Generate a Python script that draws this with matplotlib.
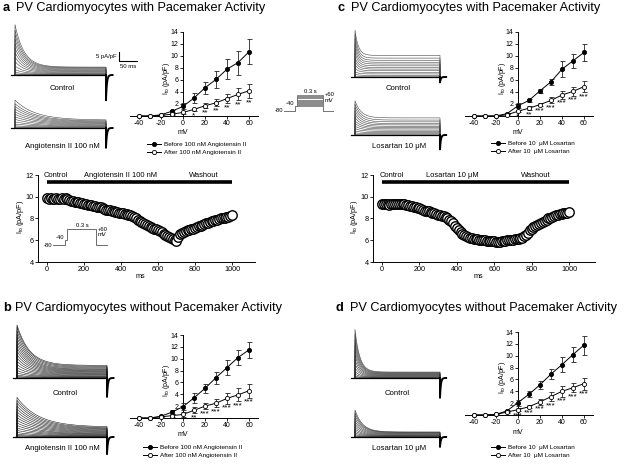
import numpy as np
import matplotlib
matplotlib.use("Agg")
import matplotlib.pyplot as plt

W, H = 624, 465

# ---------------- I-V curves (mV, pA/pF) ----------------
MV = [-40, -30, -20, -10, 0, 10, 20, 30, 40, 50, 60]

A_BEFORE = [0, 0, 0.2, 0.8, 1.6, 3.0, 4.7, 6.1, 7.8, 8.9, 10.7]
A_BEFORE_ERR = [0, 0, 0.1, 0.2, 0.5, 0.85, 1.0, 1.4, 1.7, 2.0, 2.1]
A_AFTER = [0, 0, 0.1, 0.3, 0.6, 1.1, 1.7, 2.2, 2.9, 3.6, 4.2]
A_AFTER_ERR = [0, 0, 0.05, 0.1, 0.2, 0.3, 0.4, 0.6, 0.8, 1.0, 1.2]
A_STARS = ['', '', '', '', '', '*', '**', '**', '**', '**', '**']

C_BEFORE = [0, 0, 0, 0.4, 1.7, 2.6, 4.2, 5.7, 7.8, 9.2, 10.6]
C_BEFORE_ERR = [0, 0, 0, 0.1, 0.4, 0.3, 0.3, 0.5, 1.3, 1.2, 1.4]
C_AFTER = [0, 0, 0, 0.2, 0.8, 1.3, 1.9, 2.6, 3.5, 4.1, 4.9]
C_AFTER_ERR = [0, 0, 0, 0.1, 0.2, 0.3, 0.3, 0.5, 0.6, 0.7, 0.9]
C_STARS = ['', '', '', '', '*', '**', '***', '***', '***', '***', '***']

B_BEFORE = [0, 0, 0.3, 1.0, 1.9, 3.4, 5.0, 6.8, 8.5, 10.2, 11.5]
B_BEFORE_ERR = [0, 0, 0.1, 0.4, 0.6, 0.8, 0.8, 1.0, 1.2, 1.3, 1.4]
B_AFTER = [0, 0, 0.2, 0.4, 0.6, 1.3, 2.0, 2.5, 3.3, 3.9, 4.6]
B_AFTER_ERR = [0, 0, 0.1, 0.2, 0.4, 0.5, 0.5, 0.7, 0.9, 1.1, 1.2]
B_STARS = ['', '', '', '', '', '**', '***', '***', '***', '***', '***']

D_BEFORE = [0, 0, 0.1, 0.7, 2.1, 3.5, 5.1, 6.9, 8.5, 10.2, 11.8]
D_BEFORE_ERR = [0, 0, 0.05, 0.2, 0.5, 0.5, 0.7, 0.9, 1.2, 1.3, 1.6]
D_AFTER = [0, 0, 0.1, 0.5, 0.9, 1.4, 2.2, 3.1, 4.0, 4.6, 5.3]
D_AFTER_ERR = [0, 0, 0.05, 0.2, 0.3, 0.3, 0.5, 0.8, 0.9, 0.8, 1.0]
D_STARS = ['', '', '', '', '***', '***', '***', '***', '***', '***', '***']

# ---------------- time courses (one point every 10 ms) ----------------
A_TIME_ITO = [
    9.85, 9.8, 9.85, 9.8, 9.8, 9.85, 9.8, 9.8, 9.85, 9.8, 9.85,
    9.75, 9.7, 9.62, 9.6, 9.55, 9.5, 9.48, 9.42, 9.4, 9.35,
    9.3, 9.28, 9.22, 9.2, 9.15, 9.12, 9.1, 9.05, 9.02, 8.98,
    8.9, 8.82, 8.78, 8.75, 8.72, 8.68, 8.62, 8.6, 8.55, 8.5,
    8.48, 8.45, 8.4, 8.35, 8.3,
    8.2, 8.1, 8.0, 7.88, 7.78, 7.68, 7.6, 7.5, 7.42, 7.32,
    7.25, 7.15, 7.08, 7.0, 6.92, 6.82, 6.72, 6.62, 6.5, 6.4,
    6.3, 6.2, 6.1, 6.0, 5.92,
    6.3, 6.55, 6.7, 6.8, 6.88, 6.9, 6.95, 7.0, 7.05, 7.1,
    7.2, 7.28, 7.35, 7.42, 7.5, 7.55, 7.62, 7.7, 7.75, 7.8,
    7.85, 7.9, 7.95, 8.0, 8.02, 8.05, 8.1, 8.15, 8.2, 8.32,
]
C_TIME_ITO = [
    9.3, 9.32, 9.3, 9.3, 9.28, 9.3, 9.32, 9.3, 9.3, 9.3, 9.3, 9.32, 9.3,
    9.28, 9.22, 9.18, 9.12, 9.08, 9.05, 9.0, 8.95, 8.88, 8.8,
    8.72, 8.68, 8.65, 8.6, 8.55, 8.5, 8.42, 8.35, 8.3, 8.25,
    8.2, 8.1, 8.0, 7.9, 7.75, 7.55, 7.35, 7.15, 6.95, 6.78,
    6.6, 6.48, 6.38, 6.3, 6.25, 6.2, 6.15, 6.12, 6.08, 6.05,
    6.02, 6.0, 5.98, 5.95, 5.93, 5.92, 5.9, 5.9, 5.88, 5.87,
    5.88, 5.9, 5.92, 5.95, 5.98, 6.0, 6.02, 6.05, 6.08, 6.12,
    6.15, 6.2, 6.25, 6.35, 6.5, 6.7, 6.9, 7.08, 7.2, 7.3,
    7.42, 7.5, 7.6, 7.7, 7.8, 7.9, 8.0, 8.08, 8.15, 8.22,
    8.3, 8.35, 8.4, 8.45, 8.5, 8.52, 8.55, 8.6,
]
A_BARS = [(0, 100), (100, 700), (700, 1000)]
A_BAR_LABELS = ['Control', 'Angiotensin II 100 nM', 'Washout']
C_BARS = [(0, 100), (100, 650), (650, 1000)]
C_BAR_LABELS = ['Control', 'Losartan 10 \u03bcM', 'Washout']

# ---------------- current traces: per-sweep peak / sustained (pA/pF) ----------------
A_CTRL_PEAK = [0, 0.2, 0.6, 1.5, 3, 5, 7.5, 10, 12.5, 15, 17.5, 20, 22.5, 25, 28]
A_CTRL_SS = [0, 0.1, 0.2, 0.4, 0.7, 1.0, 1.4, 1.8, 2.2, 2.6, 3.0, 3.4, 3.8, 4.1, 4.4]
A_ANG_PEAK = [0, 0.2, 0.5, 1.2, 2.2, 3.4, 4.8, 6.2, 7.6, 9, 10.5, 12, 13.5, 15.5]
A_ANG_SS = [0, 0.1, 0.3, 0.5, 0.8, 1.1, 1.5, 1.9, 2.3, 2.7, 3.1, 3.5, 3.9, 4.4]
B_CTRL_PEAK = [0, 0.3, 0.8, 1.6, 2.8, 4.2, 5.8, 7.5, 9.3, 11.1, 13, 14.9, 16.8,
               18.7, 20.6, 22.5, 24.4, 26.3, 28.2, 29.5]
B_CTRL_SS = [0, 0.1, 0.2, 0.4, 0.7, 1.0, 1.4, 1.8, 2.2, 2.6, 3.0, 3.4, 3.8,
             4.2, 4.6, 5.0, 5.5, 6.0, 6.5, 7.0]
B_ANG_PEAK = [0, 0.3, 0.8, 1.5, 2.5, 3.7, 5, 6.4, 7.8, 9.3, 10.8, 12.3, 13.9,
              15.5, 17.1, 18.8, 20.4, 22]
B_ANG_SS = [0, 0.1, 0.2, 0.4, 0.6, 0.9, 1.2, 1.5, 1.8, 2.2, 2.6, 3.0, 3.4,
            3.8, 4.2, 4.6, 5.0, 5.5]
C_CTRL_PEAK = [0, 0.5, 1.5, 3, 5, 7, 9, 11, 13.5, 16, 18.5, 21, 23.5, 26]
C_CTRL_SS = [0, 0.3, 0.9, 1.7, 2.6, 3.5, 4.4, 5.3, 6.2, 7.2, 8.2, 9.3, 10.5, 12]
C_LOS_PEAK = [0, 0.4, 1.2, 2.3, 3.6, 5, 6.5, 8, 9.8, 11.6, 13.5, 15.4, 17.2, 19]
C_LOS_SS = [0, 0.2, 0.7, 1.3, 2, 2.7, 3.4, 4.1, 4.8, 5.6, 6.4, 7.3, 8.3, 9.5]
D_CTRL_PEAK = [0, 0.3, 1, 2.2, 3.8, 5.8, 8, 10.4, 13, 15.6, 18.3, 21, 24, 27]
D_CTRL_SS = [0, 0.1, 0.2, 0.4, 0.6, 0.9, 1.2, 1.5, 1.8, 2.1, 2.4, 2.7, 3.0, 3.3]
D_LOS_PEAK = [0, 0.2, 0.6, 1.3, 2.2, 3.3, 4.5, 5.8, 7.2, 8.7, 10.3, 12, 13.5, 15]
D_LOS_SS = [0, 0.1, 0.2, 0.3, 0.5, 0.7, 0.9, 1.2, 1.5, 1.8, 2.1, 2.4, 2.6, 2.8]

# ---------------- voltage protocol ----------------
PROTO_T = [0, 120, 120, 150, 150, 450, 450, 560]
PROTO_V = [-80, -80, -40, -40, 60, 60, -80, -80]
STEP_LEVELS = [-40, -30, -20, -10, 0, 10, 20, 30, 40, 50, 60]

plt.rcParams['font.family'] = ['Liberation Sans', 'DejaVu Sans']
plt.rcParams['mathtext.fontset'] = 'custom'
plt.rcParams['mathtext.rm'] = 'Liberation Sans'
plt.rcParams['axes.linewidth'] = 0.7
plt.rcParams['axes.unicode_minus'] = False

fig = plt.figure(figsize=(W / 100, H / 100), dpi=100)
ITO = r'I$_{\rm to}$ (pA/pF)'


def px_axes(x0, y0, x1, y1):
    ax = fig.add_axes([x0 / W, 1 - y1 / H, (x1 - x0) / W, (y1 - y0) / H])
    ax.patch.set_alpha(0)
    return ax


def ftext(x, y, s, **kw):
    kw.setdefault('ha', 'center')
    kw.setdefault('va', 'center')
    fig.text(x / W, 1 - y / H, s, **kw)


def title(x_letter, x_text, y, letter, text):
    ftext(x_letter, y, letter, ha='left', fontsize=9.2, fontweight='bold')
    ftext(x_text, y, text, ha='left', fontsize=9.2)


def iv_panel(x_zero, y_zero, y14, before, before_err, after, after_err,
             stars, drug, legend_xy):
    kx = 1.1
    ky = (y_zero - y14) / 14
    xl, xr, yb, yt = -48, 68, -0.5, 14
    ax = px_axes(x_zero + xl * kx, y_zero - yt * ky, x_zero + xr * kx, y_zero - yb * ky)
    ax.set_xlim(xl, xr)
    ax.set_ylim(yb, yt)
    for s in ('top', 'right'):
        ax.spines[s].set_visible(False)
    ax.spines['left'].set_position(('data', 0))
    ax.spines['bottom'].set_position(('data', 0))
    ax.spines['left'].set_bounds(0, 14)
    ax.set_xticks(range(-40, 61, 20))
    ax.set_yticks(range(0, 15, 2))
    ax.set_yticklabels([''] + [str(v) for v in range(2, 15, 2)])
    ax.tick_params(labelsize=5, length=2, width=0.6, pad=1.2)
    l1, = ax.plot(MV, before, '-o', color='black', ms=3, lw=0.7, mfc='black', mew=0.6, zorder=4)
    ax.errorbar(MV, before, yerr=before_err, fmt='none', ecolor='#222222',
                elinewidth=0.6, capsize=1.8, capthick=0.6, zorder=3)
    l2, = ax.plot(MV, after, '-o', color='black', ms=3, lw=0.7, mfc='white', mew=0.6, zorder=4)
    ax.errorbar(MV, after, yerr=after_err, fmt='none', ecolor='#222222',
                elinewidth=0.6, capsize=1.8, capthick=0.6, zorder=3)
    for v, a, e, s in zip(MV, after, after_err, stars):
        if s:
            ax.text(v, a - e - 0.15, s, ha='center', va='top', fontsize=6)
    ftext(x_zero - 16, y_zero - 38, ITO, rotation=90, fontsize=5)
    ftext(x_zero, y_zero + 17, 'mV', fontsize=5)
    ax.legend([l1, l2], ['Before ' + drug, 'After ' + drug], loc='upper left',
              bbox_to_anchor=(legend_xy[0] / W, 1 - legend_xy[1] / H),
              bbox_transform=fig.transFigure, frameon=False, fontsize=4.6,
              handlelength=2.2, handletextpad=0.4, labelspacing=0.3,
              borderpad=0, borderaxespad=0)


def time_panel(x_spine, x0, x1000, x_end, values, bars, labels, xlab_x, ylab_x):
    k = (x1000 - x0) / 1000
    ax = px_axes(x_spine, 175, x_end, 262)
    ax.set_xlim((x_spine - x0) / k, (x_end - x0) / k)
    ax.set_ylim(4, 12)
    for s in ('top', 'right'):
        ax.spines[s].set_visible(False)
    ax.set_xticks(range(0, 1001, 200))
    ax.set_yticks(range(4, 13, 2))
    ax.tick_params(labelsize=5.2, length=2, width=0.6, pad=1)
    t = np.arange(len(values)) * 10
    ax.plot(t, values, 'o', ms=6.8, mfc='white', mec='black', mew=1.0, clip_on=False)
    for (b0, b1), lab in zip(bars, labels):
        ax.plot([b0, b1], [11.4, 11.4], color='black', lw=2.6, solid_capstyle='butt', clip_on=False)
        ax.text((b0 + b1) / 2, 11.65, lab, ha='center', va='bottom', fontsize=5.4)
    ftext(xlab_x, 277, 'ms', fontsize=5.2)
    ftext(ylab_x, 217, ITO, rotation=90, fontsize=5.2)
    return ax


T_STEP = 250.0


def trace_panel(x_start, x_end, y_base, y_top, y_bot, peaks, steady, tau, tail, col):
    kx = (x_end - x_start) / T_STEP
    ky = 1.8
    ax = px_axes(x_start - 6, y_top, x_end + 10, y_bot)
    ax.set_xlim(-6 / kx, (x_end + 10 - x_start) / kx)
    ax.set_ylim((y_base - y_bot) / ky, (y_base - y_top) / ky)
    ax.axis('off')
    t = np.linspace(0, T_STEP, 400)
    for p, s in zip(peaks, steady):
        cur = s + (p - s) * np.exp(-t / tau)
        ax.plot(np.r_[0, t, T_STEP], np.r_[0, cur, 0], color=col, lw=0.4)
    ax.plot([-4 / kx, T_STEP], [0, 0], color='black', lw=0.9)
    tt = np.linspace(0, 18, 80)
    ax.plot(np.r_[T_STEP, T_STEP + tt], np.r_[0, -tail * np.exp(-tt / 2.5)],
            color='black', lw=1.4)


def protocol(x_start, x_end, y_m80, y_p60, levels, gray):
    kx = (x_end - x_start) / PROTO_T[-1]
    ky = (y_m80 - y_p60) / 140
    ax = px_axes(x_start - 15, y_p60 - 10, x_end + 15, y_m80 + 6)
    ax.set_xlim(-15 / kx, PROTO_T[-1] + 15 / kx)
    ax.set_ylim(-80 - 6 / ky, 60 + 10 / ky)
    ax.axis('off')
    for lv in levels:
        v = [lv if p == 60 else p for p in PROTO_V]
        ax.plot(PROTO_T, v, color=gray, lw=0.6)
    ax.text(-8, -80, '-80', ha='right', va='center', fontsize=4.2)
    ax.text(PROTO_T[2] - 8, -40, '-40', ha='right', va='bottom', fontsize=4.2)
    ax.text(300, 66, '0.3 s', ha='center', va='bottom', fontsize=4.2)
    ax.text(PROTO_T[-2] + 10, 60, '+60', ha='left', va='center', fontsize=4.2)
    ax.text(PROTO_T[-2] + 10, 10, 'mV', ha='left', va='center', fontsize=4.2)


# ---------------- titles ----------------
title(3, 16, 8, 'a', 'PV Cardiomyocytes with Pacemaker Activity')
title(338, 351, 8, 'c', 'PV Cardiomyocytes with Pacemaker Activity')
title(3, 15, 308, 'b', 'PV Cardiomyocytes without Pacemaker Activity')
title(336, 350, 308, 'd', 'PV Cardiomyocytes without Pacemaker Activity')

# ---------------- traces ----------------
trace_panel(15, 106, 75, 20, 105, A_CTRL_PEAK, A_CTRL_SS, 25, 14, '#444444')
trace_panel(15, 106, 128, 95, 152, A_ANG_PEAK, A_ANG_SS, 55, 11, '#444444')
trace_panel(17, 107, 378, 318, 400, B_CTRL_PEAK, B_CTRL_SS, 35, 10.5, '#1a1a1a')
trace_panel(17, 107, 437, 392, 462, B_ANG_PEAK, B_ANG_SS, 60, 9.5, '#1a1a1a')
trace_panel(355, 440, 77, 25, 92, C_CTRL_PEAK, C_CTRL_SS, 10, 3, '#444444')
trace_panel(355, 440, 135, 95, 154, C_LOS_PEAK, C_LOS_SS, 18, 8, '#444444')
trace_panel(355, 440, 378, 325, 408, D_CTRL_PEAK, D_CTRL_SS, 14, 11, '#333333')
trace_panel(355, 440, 437, 405, 452, D_LOS_PEAK, D_LOS_SS, 22, 5.5, '#333333')

ftext(62, 89, 'Control', fontsize=5.6)
ftext(62, 146, 'Angiotensin II 100 nM', fontsize=5.6)
ftext(65, 393, 'Control', fontsize=5.6)
ftext(62, 448, 'Angiotensin II 100 nM', fontsize=5.6)
ftext(398, 88, 'Control', fontsize=5.6)
ftext(399, 146, 'Losartan 10 \u03bcM', fontsize=5.6)
ftext(397, 393, 'Control', fontsize=5.6)
ftext(399, 448, 'Losartan 10 \u03bcM', fontsize=5.6)

# scale bar (5 pA/pF, 50 ms)
sb = px_axes(0, 0, W, H)
sb.set_xlim(0, W)
sb.set_ylim(H, 0)
sb.axis('off')
sb.plot([119, 119, 137], [52, 61, 61], color='black', lw=0.8)
ftext(117, 56, '5 pA/pF', ha='right', fontsize=4.3)
ftext(128, 66, '50 ms', fontsize=4.3)

# ---------------- I-V panels ----------------
iv_panel(183, 116, 32, A_BEFORE, A_BEFORE_ERR, A_AFTER, A_AFTER_ERR, A_STARS,
         '100 nM Angiotensin II', (147, 142))
iv_panel(518, 116, 32, C_BEFORE, C_BEFORE_ERR, C_AFTER, C_AFTER_ERR, C_STARS,
         '10  \u03bcM Losartan', (491, 141))
iv_panel(183, 418, 335, B_BEFORE, B_BEFORE_ERR, B_AFTER, B_AFTER_ERR, B_STARS,
         '100 nM Angiotensin II', (143, 445))
iv_panel(518, 415, 332, D_BEFORE, D_BEFORE_ERR, D_AFTER, D_AFTER_ERR, D_STARS,
         '10  \u03bcM Losartan', (491, 445))

# ---------------- time courses ----------------
time_panel(38, 47, 232, 255, A_TIME_ITO, A_BARS, A_BAR_LABELS, 140, 20)
time_panel(373, 382, 569, 595, C_TIME_ITO, C_BARS, C_BAR_LABELS, 478, 355)

# ---------------- voltage protocols ----------------
protocol(53, 107, 245, 229, [60], '#555555')
protocol(284, 333, 111, 95, STEP_LEVELS, '#777777')

fig.savefig('out.png', dpi=100)
